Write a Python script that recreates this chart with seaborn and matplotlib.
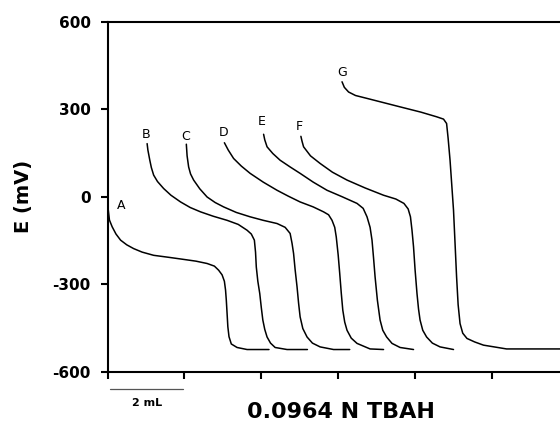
import matplotlib
matplotlib.use("Agg")
import matplotlib.pyplot as plt
import matplotlib.transforms as mtransforms
import seaborn as sns
import pandas as pd

# ---- data (volume of titrant in mL, potential in mV) ----
A_x = [0.02, 0.05, 0.12, 0.22, 0.34, 0.50, 0.68, 0.90, 1.20, 1.60, 1.98, 2.30, 2.59, 2.78, 2.89, 2.98,
       3.04, 3.07, 3.09, 3.11, 3.13, 3.16, 3.22, 3.37, 3.63, 4.20]
A_y = [-46, -80, -103, -128, -149, -165, -178, -190, -201, -208, -215, -221, -229, -238, -252, -268,
       -290, -320, -355, -400, -446, -480, -505, -517, -524, -524]
B_x = [1.03, 1.05, 1.10, 1.14, 1.20, 1.30, 1.46, 1.65, 1.90, 2.15, 2.42, 2.75, 3.11, 3.40, 3.63, 3.74,
       3.82, 3.85, 3.87, 3.91, 3.96, 4.00, 4.04, 4.09, 4.15, 4.24, 4.36, 4.67, 5.20]
B_y = [182, 160, 125, 100, 74, 52, 28, 5, -18, -37, -52, -67, -81, -95, -115, -128,
       -149, -190, -241, -290, -332, -380, -423, -455, -481, -502, -517, -524, -524]
C_x = [2.05, 2.07, 2.11, 2.16, 2.24, 2.40, 2.59, 2.80, 3.02, 3.35, 3.71, 4.05, 4.41, 4.62, 4.75, 4.80,
       4.84, 4.88, 4.93, 4.97, 5.01, 5.08, 5.19, 5.33, 5.53, 5.88, 6.30]
C_y = [180, 140, 102, 78, 57, 27, -1, -20, -35, -54, -69, -81, -92, -105, -126, -160,
       -195, -250, -309, -365, -412, -452, -481, -502, -515, -524, -524]
D_x = [3.04, 3.14, 3.28, 3.48, 3.71, 4.05, 4.41, 4.70, 5.01, 5.35, 5.62, 5.75, 5.84, 5.91, 5.95, 6.00,
       6.04, 6.08, 6.12, 6.17, 6.23, 6.34, 6.49, 6.83, 7.18]
D_y = [185, 160, 131, 105, 80, 50, 22, 2, -18, -35, -52, -62, -81, -105, -138, -200,
       -263, -330, -389, -430, -458, -485, -503, -522, -524]
E_x = [4.06, 4.09, 4.15, 4.30, 4.49, 4.75, 5.01, 5.35, 5.71, 6.10, 6.49, 6.65, 6.75, 6.83, 6.88, 6.92,
       6.96, 7.02, 7.09, 7.16, 7.26, 7.40, 7.61, 7.96]
E_y = [214, 195, 171, 148, 125, 102, 80, 50, 22, 0, -23, -40, -69, -105, -149, -210,
       -275, -355, -423, -458, -481, -503, -517, -524]
F_x = [5.03, 5.06, 5.10, 5.28, 5.53, 5.85, 6.23, 6.70, 7.18, 7.50, 7.71, 7.82, 7.88, 7.92, 7.96, 8.00,
       8.05, 8.09, 8.13, 8.20, 8.30, 8.45, 8.65, 9.00]
F_y = [207, 190, 171, 140, 114, 84, 57, 30, 5, -8, -23, -42, -69, -115, -172, -250,
       -332, -385, -423, -458, -481, -502, -515, -524]
G_x = [6.10, 6.16, 6.27, 6.45, 6.75, 7.61, 8.15, 8.56, 8.74, 8.82, 8.86, 8.91, 9.00, 9.04, 9.08, 9.12,
       9.17, 9.24, 9.35, 9.55, 9.78, 10.38, 11.77]
G_y = [394, 375, 359, 347, 337, 308, 290, 274, 266, 251, 200, 125, -46, -160, -275, -370,
       -435, -468, -486, -498, -509, -522, -522]

curve_names = ["A", "B", "C", "D", "E", "F", "G"]
curve_x = [A_x, B_x, C_x, D_x, E_x, F_x, G_x]
curve_y = [A_y, B_y, C_y, D_y, E_y, F_y, G_y]
label_x = [0.36, 1.01, 2.03, 3.02, 4.02, 5.00, 6.10]
label_y = [-29, 214, 207, 219, 257, 240, 425]

y_ticks = [-600, -300, 0, 300, 600]
x_ticks = [0, 2, 4, 6, 8, 10]
scale_bar_mL = 2
x_label = "0.0964 N TBAH"
y_label = "E (mV)"

rows = []
for name, xs, ys in zip(curve_names, curve_x, curve_y):
    for i, (xv, yv) in enumerate(zip(xs, ys)):
        rows.append({"curve": name, "order": i, "vol": xv, "E": yv})
df = pd.DataFrame(rows)

sns.set_style("ticks")
plt.rcParams["font.family"] = ["DejaVu Sans"]
for key in ["text.color", "axes.labelcolor", "xtick.color", "ytick.color", "axes.edgecolor"]:
    plt.rcParams[key] = "black"

fig = plt.figure(figsize=(5.6, 4.23), dpi=100)
ax = fig.add_axes([0.192, 0.1213, 0.808, 0.8274])

sns.lineplot(data=df, x="vol", y="E", units="curve", estimator=None, sort=False,
             color="black", linewidth=1.1, ax=ax, legend=False)

for name, lx, ly in zip(curve_names, label_x, label_y):
    ax.text(lx, ly, name, ha="center", va="center", fontsize=9, color="black")

ax.set_xlim(0, 11.77)
ax.set_ylim(-600, 600)
ax.set_yticks(y_ticks)
ax.set_yticklabels([str(v) for v in y_ticks], fontsize=11, fontweight="bold")
ax.set_xticks(x_ticks)
ax.set_xticklabels([])
ax.tick_params(axis="both", direction="out", length=5, width=1.5, color="black", pad=6)
ax.tick_params(axis="y", pad=7)

for side in ["left", "bottom", "top"]:
    ax.spines[side].set_visible(True)
    ax.spines[side].set_linewidth(1.5)
    ax.spines[side].set_color("black")
ax.spines["right"].set_visible(False)

ax.set_xlabel("")
ax.set_ylabel(y_label, fontsize=14, fontweight="bold", labelpad=14)

# scale bar (2 mL) under the x axis
trans = mtransforms.blended_transform_factory(ax.transData, ax.transAxes)
ax.plot([0.07, 0.07 + scale_bar_mL - 0.1], [-0.05, -0.05], transform=trans,
        color="#555555", linewidth=0.9, clip_on=False)
ax.text(0.07 + (scale_bar_mL - 0.1) / 2, -0.09, f"{scale_bar_mL} mL", transform=trans,
        ha="center", va="center", fontsize=8, fontweight="bold")

fig.text(341 / 560, 1 - 412 / 423, x_label, ha="center", va="center",
         fontsize=16, fontweight="bold")

fig.savefig("out.png", dpi=100, facecolor="white")
